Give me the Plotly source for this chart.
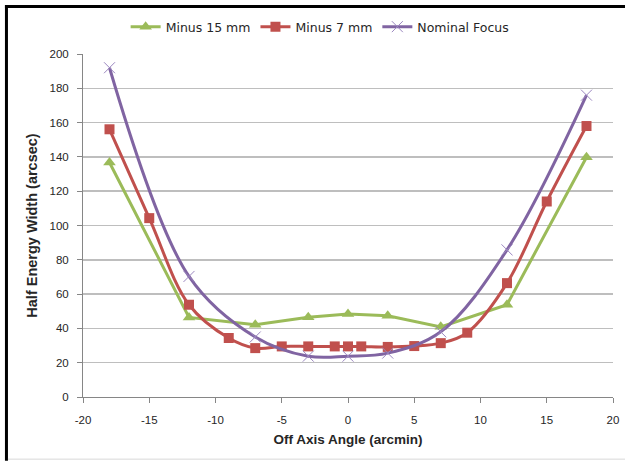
import plotly.graph_objects as go

# Data
x_m15 = [-18, -12, -7, -3, 0, 3, 7, 12, 18]
y_m15 = [136.7, 46.4, 42.1, 46.5, 48.4, 47.4, 40.9, 53.8, 139.8]

x_m7 = [-18, -15, -12, -9, -7, -5, -3, -1, 0, 1, 3, 5, 7, 9, 12, 15, 18]
y_m7 = [156.1, 104.3, 53.8, 34.4, 28.5, 29.5, 29.5, 29.5, 29.5, 29.5, 29.2, 29.7, 31.4, 37.5, 66.4, 114.0, 158.0]

x_nom = [-18, -12, -7, -3, 0, 3, 7, 12, 18]
y_nom = [192.0, 70.3, 35.0, 23.8, 23.8, 25.6, 38.0, 85.8, 176.0]

series_names = ["Minus 15 mm", "Minus 7 mm", "Nominal Focus"]

x_ticks = [-20, -15, -10, -5, 0, 5, 10, 15, 20]
x_tick_labels = ["-20", "-15", "-10", "-5", "0", "5", "10", "15", "20"]
y_ticks = [0, 20, 40, 60, 80, 100, 120, 140, 160, 180, 200]

W, H = 625, 461
L, R, T, B = 83, 612.7, 54, 397.3
pw, ph = R - L, B - T


def px(x):
    return (x - L) / pw


def py(y):
    return (B - y) / ph


fig = go.Figure()
fig.add_trace(go.Scatter(
    x=x_m15, y=y_m15, name=series_names[0], mode="lines+markers",
    line=dict(color="#9BBB59", width=3),
    marker=dict(symbol="triangle-up", size=11, color="#9BBB59"),
))
fig.add_trace(go.Scatter(
    x=x_m7, y=y_m7, name=series_names[1], mode="lines+markers",
    line=dict(color="#C0504D", width=3, shape="spline", smoothing=1),
    marker=dict(symbol="square", size=10, color="#C0504D"),
))
fig.add_trace(go.Scatter(
    x=x_nom, y=y_nom, name=series_names[2], mode="lines+markers",
    line=dict(color="#8064A2", width=3, shape="spline", smoothing=1),
    marker=dict(symbol="x-thin", size=11, color="#9B87C0",
                line=dict(width=1, color="#9B87C0")),
))

axis_common = dict(
    showline=True, linecolor="#868686", linewidth=1,
    ticks="outside", ticklen=5, tickcolor="#868686",
    tickfont=dict(family="Liberation Sans, Arial, sans-serif", size=11.5, color="#262626"),
    zeroline=False, automargin=False,
)

fig.update_layout(
    width=W, height=H,
    margin=dict(l=L, r=W - R, t=T, b=H - B, pad=0, autoexpand=False),
    paper_bgcolor="white", plot_bgcolor="white",
    showlegend=True,
    legend=dict(orientation="h", x=px(320), xanchor="center", y=py(27), yanchor="middle",
                font=dict(family="DejaVu Sans, Verdana, sans-serif", size=12.5, color="#262626"),
                bgcolor="rgba(0,0,0,0)", itemwidth=30, tracegroupgap=0),
    xaxis=dict(range=[-20, 20], tickvals=x_ticks, ticktext=x_tick_labels, showgrid=False,
               ticklabelstandoff=7,
               title=dict(text="Off Axis Angle (arcmin)", standoff=9,
                          font=dict(family="Liberation Sans, Arial, sans-serif", size=13.5, color="#262626", weight="bold")),
               **axis_common),
    yaxis=dict(range=[0, 200], tickvals=y_ticks, showgrid=True, gridcolor="#BEBEBE", gridwidth=1.5,
               ticklabelstandoff=6,
               title=dict(text="Half Energy Width (arcsec)", standoff=8,
                          font=dict(family="Liberation Sans, Arial, sans-serif", size=14.5, color="#262626", weight="bold")),
               **axis_common),
    shapes=[
        dict(type="rect", xref="paper", yref="paper", x0=px(5), x1=px(625), y0=py(5), y1=py(8),
             fillcolor="black", line=dict(width=0)),
        dict(type="rect", xref="paper", yref="paper", x0=px(5), x1=px(8), y0=py(5), y1=py(461),
             fillcolor="black", line=dict(width=0)),
        dict(type="line", xref="paper", yref="paper", x0=px(8), x1=px(625), y0=py(459.5), y1=py(459.5),
             line=dict(color="#D9D9D9", width=1)),
    ],
)

fig.write_html(
    "out.html",
    config={"displayModeBar": False, "staticPlot": True},
    post_script=(
        "document.body.style.margin='0';document.body.style.overflow='hidden';"
        "document.documentElement.style.overflow='hidden';"
    ),
)
